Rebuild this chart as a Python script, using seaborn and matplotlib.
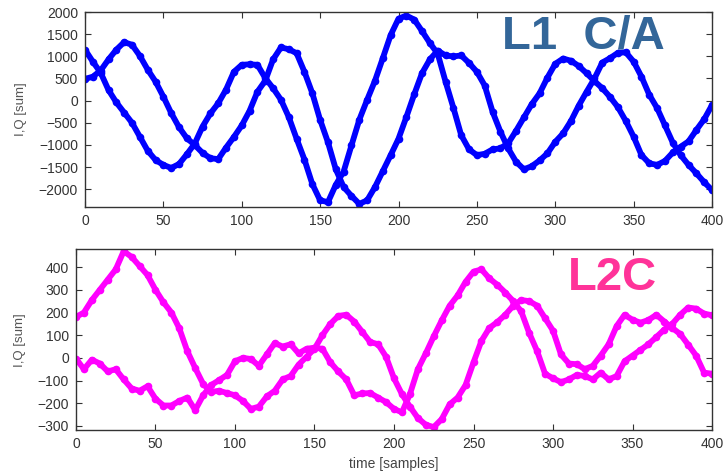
import matplotlib
matplotlib.use('Agg')

import numpy as np
import seaborn as sns
import matplotlib.pyplot as plt

# sample index, one reading every 5 samples
samples = list(range(0, 401, 5))

# L1 C/A correlator sums
l1_i = [1150, 880, 630, 240, -40, -270, -500, -815, -1130, -1340,
        -1450, -1520, -1430, -1210, -970, -585, -290, -60, 250, 650,
        808, 820, 808, 510, 280, 20, -370, -860, -1330, -1880,
        -2250, -2290, -1900, -1600, -1010, -430, 20, 450, 960, 1480,
        1850, 1920, 1830, 1570, 1300, 1060, 430, -160, -780, -1100,
        -1230, -1200, -1100, -1077, -960, -680, -380, -80, 165, 520,
        830, 950, 900, 780, 617, 440, 280, 80, -150, -460,
        -815, -1230, -1415, -1450, -1360, -1170, -1040, -920, -663, -420,
        -100]
l1_q = [490, 540, 680, 930, 1150, 1320, 1260, 1010, 700, 430,
        90, -280, -600, -850, -1000, -1180, -1300, -1320, -1060, -820,
        -560, -230, 200, 450, 930, 1200, 1160, 1070, 650, 170,
        -434, -940, -1550, -1950, -2150, -2330, -2250, -1950, -1590, -1230,
        -860, -370, 140, 620, 930, 1130, 1020, 997, 1020, 850,
        650, 340, -250, -700, -1080, -1380, -1550, -1480, -1350, -1190,
        -930, -740, -460, -110, 200, 500, 860, 960, 1080, 1090,
        880, 540, 130, -170, -560, -950, -1230, -1450, -1640, -1840,
        -2020]

# L2C correlator sums
l2_i = [180, 200, 255, 300, 345, 390, 470, 445, 405, 365,
        300, 245, 200, 130, 30, -45, -115, -150, -145, -155,
        -165, -190, -225, -215, -170, -145, -95, -80, -30, 5,
        40, 100, 150, 185, 190, 160, 115, 70, 60, 5,
        -90, -160, -215, -265, -295, -305, -270, -205, -175, -120,
        -20, 75, 132, 158, 190, 230, 255, 250, 230, 175,
        120, 15, -25, -28, -50, -35, 10, 60, 140, 190,
        168, 155, 167, 190, 160, 132, 105, 58, 10, -65,
        -70]
l2_q = [-3, -50, -8, -25, -60, -50, -95, -135, -145, -125,
        -180, -210, -210, -190, -175, -230, -165, -120, -98, -75,
        -15, 0, -5, -35, 15, 65, 50, 60, 20, 40,
        45, 40, -20, -60, -95, -165, -157, -155, -175, -195,
        -225, -240, -160, -50, 20, 95, 165, 230, 275, 335,
        380, 390, 350, 322, 288, 250, 205, 110, 30, -70,
        -90, -107, -95, -75, -80, -95, -65, -95, -80, -15,
        10, 35, 60, 92, 125, 150, 190, 222, 217, 195,
        188]

sns.set_theme(style="ticks")
plt.rcParams['font.family'] = ['Liberation Sans', 'DejaVu Sans']
plt.rcParams['xtick.direction'] = 'in'
plt.rcParams['ytick.direction'] = 'in'

fig = plt.figure(figsize=(7.27, 4.73), dpi=100)
ax1 = fig.add_axes([0.1169, 0.5624, 0.8625, 0.4122])
ax2 = fig.add_axes([0.1045, 0.0899, 0.8749, 0.3837])

def draw(ax, series, color):
    for ys in series:
        sns.lineplot(x=samples, y=ys, ax=ax, color=color, lw=4.2,
                     marker='o', markersize=5.5, markeredgewidth=0,
                     solid_capstyle='round', solid_joinstyle='round')

draw(ax1, [l1_i, l1_q], '#0000ff')
draw(ax2, [l2_i, l2_q], '#ff00ff')

ax1.set_xlim(0, 400)
ax1.set_ylim(-2400, 2000)
ax1.set_yticks(np.arange(-2000, 2001, 500))
ax2.set_xlim(0, 400)
ax2.set_ylim(-320, 480)
ax2.set_yticks(np.arange(-300, 401, 100))

for ax in (ax1, ax2):
    ax.set_xticks(np.arange(0, 401, 50))
    ax.tick_params(top=True, right=True, length=4, width=0.8,
                   labelsize=10, labelcolor='#333333', color='#333333', pad=5)
    for sp in ax.spines.values():
        sp.set_color('#333333')
        sp.set_linewidth(1.0)
    ax.set_ylabel('I,Q [sum]', fontsize=9.5, color='#555555')

ax1.yaxis.set_label_coords(-0.093, 0.5)
ax2.yaxis.set_label_coords(-0.079, 0.5)
ax2.set_xlabel('time [samples]', fontsize=10, color='#444444', labelpad=4)

fig.text(0.8026, 0.9218, 'L1  C/A', color='#336699', fontsize=34,
         fontweight='bold', ha='center', va='center')
fig.text(0.8425, 0.4123, 'L2C', color='#ff3399', fontsize=34,
         fontweight='bold', ha='center', va='center')

fig.savefig('out.png', dpi=100)
